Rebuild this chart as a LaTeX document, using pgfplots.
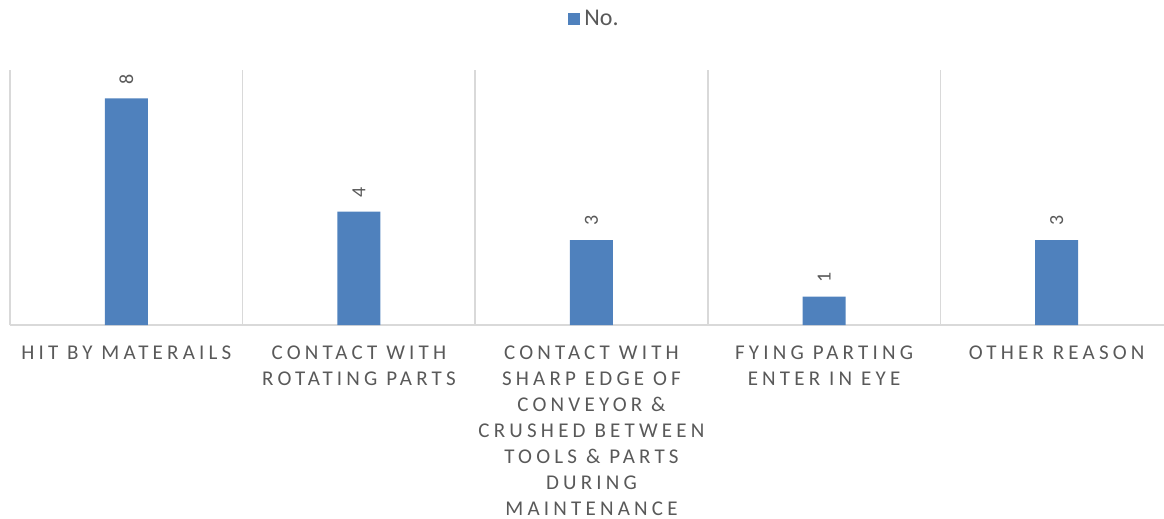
\documentclass[border=0pt]{standalone}
\usepackage{fontspec}
\setmainfont{Carlito}
\newfontfamily\spaced[LetterSpace=20]{Carlito}
\usepackage{pgfplots}
\pgfplotsset{compat=1.18}
\definecolor{barblue}{HTML}{4F81BD}
\definecolor{txtgray}{HTML}{595959}
\definecolor{gridgray}{HTML}{D9D9D9}

\begin{document}
\begin{tikzpicture}
\begin{axis}[
    scale only axis,
    width=1163pt, height=255pt,
    xmin=-0.5, xmax=4.5, ymin=0, ymax=9,
    ybar, bar width=43pt,
    axis line style={draw=none},
    ytick=\empty,
    extra y ticks={0},
    extra y tick labels={},
    extra y tick style={grid=major, major grid style={gridgray, line width=1.5pt}, major tick length=0pt},
    xtick={0,1,2,3,4},
    xticklabels={
        {HIT BY MATERAILS},
        {CONTACT WITH\\ROTATING PARTS},
        {CONTACT WITH\\SHARP EDGE OF\\CONVEYOR \&\\CRUSHED BETWEEN\\TOOLS \& PARTS\\DURING\\MAINTENANCE},
        {FYING PARTING\\ENTER IN EYE},
        {OTHER REASON}},
    x tick label style={align=center, anchor=north, text=txtgray,
        font=\spaced\fontsize{21}{26}\selectfont, yshift=-17pt},
    major tick length=0pt,
    minor xtick={-0.5,0.5,1.5,2.5,3.5},
    minor tick length=0pt,
    xminorgrids=true,
    minor grid style={gridgray, line width=1.5pt},
    nodes near coords={\pgfmathprintnumber[assume math mode=true]{\pgfplotspointmeta}},
    every node near coord/.append style={rotate=90, anchor=west, text=txtgray,
        font=\fontsize{20}{24}\selectfont, inner xsep=14pt, inner ysep=0pt},
    legend style={draw=none, at={(0.5,1.243)}, anchor=north, text=txtgray, xshift=4pt,
        font=\fontsize{24}{26}\selectfont, inner sep=0pt,
        nodes={inner xsep=4pt}},
    legend image code/.code={\fill[barblue] (0pt,-6pt) rectangle (12pt,6pt);},
]
\addplot[fill=barblue, draw=none] coordinates {(0,8) (1,4) (2,3) (3,1) (4,3)};
\addlegendentry{No.}
\coordinate (bl) at (rel axis cs:0,0);
\end{axis}
\pgfresetboundingbox
\path (bl) ++(-10pt,-194pt) rectangle ([xshift=1154pt, yshift=325pt]bl);
\end{tikzpicture}
\end{document}
